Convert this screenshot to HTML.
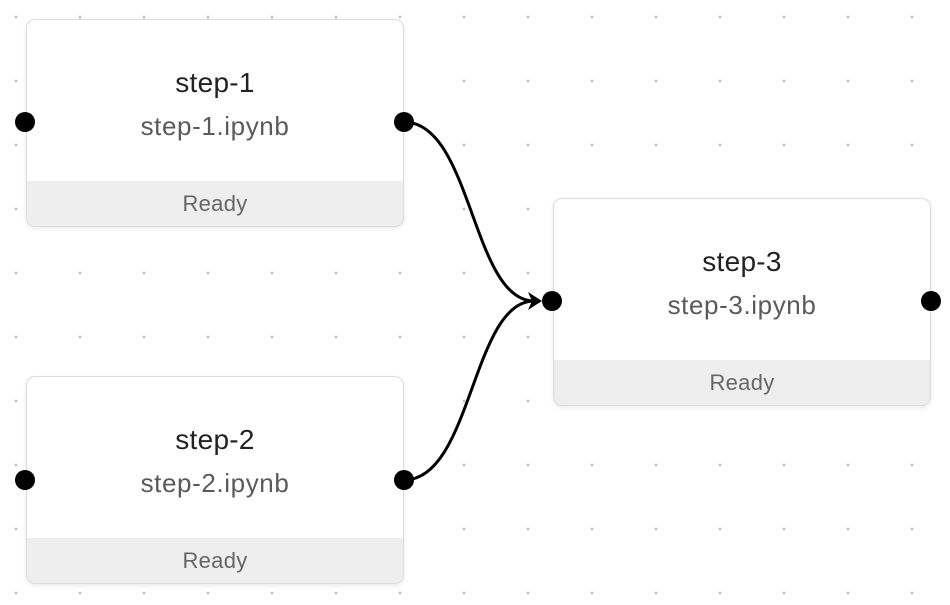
<!DOCTYPE html>
<html><head><style>
body{margin:0;width:950px;height:605px;overflow:hidden;background:#fff;font-family:"Liberation Sans",sans-serif;}
.bg{position:absolute;left:0;top:0;width:950px;height:605px;background-image:radial-gradient(circle,#c4c4c4 1.2px,transparent 1.6px);background-size:64px 64px;background-position:-16px -15px;}
.node{position:absolute;width:376px;height:206px;border:1px solid #dcdcdc;border-radius:9px;background:#fff;box-shadow:0 2px 5px rgba(0,0,0,0.08);overflow:hidden;}
.t{position:absolute;top:47px;width:100%;text-align:center;font-size:28px;color:#222;letter-spacing:0.3px;}
.s{position:absolute;top:91px;width:100%;text-align:center;font-size:26px;color:#5a5a5a;letter-spacing:0.6px;}
.f{position:absolute;bottom:0;width:100%;height:45px;background:#eeeeee;text-align:center;line-height:45px;font-size:22px;color:#666;letter-spacing:0.3px;}
svg{position:absolute;left:0;top:0;}
</style></head><body>
<div class="bg"></div>
<div class="node" style="left:26px;top:19px"><div class="t">step-1</div><div class="s">step-1.ipynb</div><div class="f">Ready</div></div>
<div class="node" style="left:26px;top:376px"><div class="t">step-2</div><div class="s">step-2.ipynb</div><div class="f">Ready</div></div>
<div class="node" style="left:553px;top:198px"><div class="t">step-3</div><div class="s">step-3.ipynb</div><div class="f">Ready</div></div>
<svg width="950" height="605">
<path d="M404 122 C472 122 472 301 534 301" fill="none" stroke="#000" stroke-width="3"/>
<path d="M404 480 C472 480 472 301 534 301" fill="none" stroke="#000" stroke-width="3"/>
<polygon points="542,301 528,292 532,301 528,310" fill="#000"/>
<circle cx="25" cy="122" r="10"/><circle cx="404" cy="122" r="10"/>
<circle cx="25" cy="480" r="10"/><circle cx="404" cy="480" r="10"/>
<circle cx="552" cy="301" r="10"/><circle cx="931" cy="301" r="10"/>
</svg>
</body></html>
